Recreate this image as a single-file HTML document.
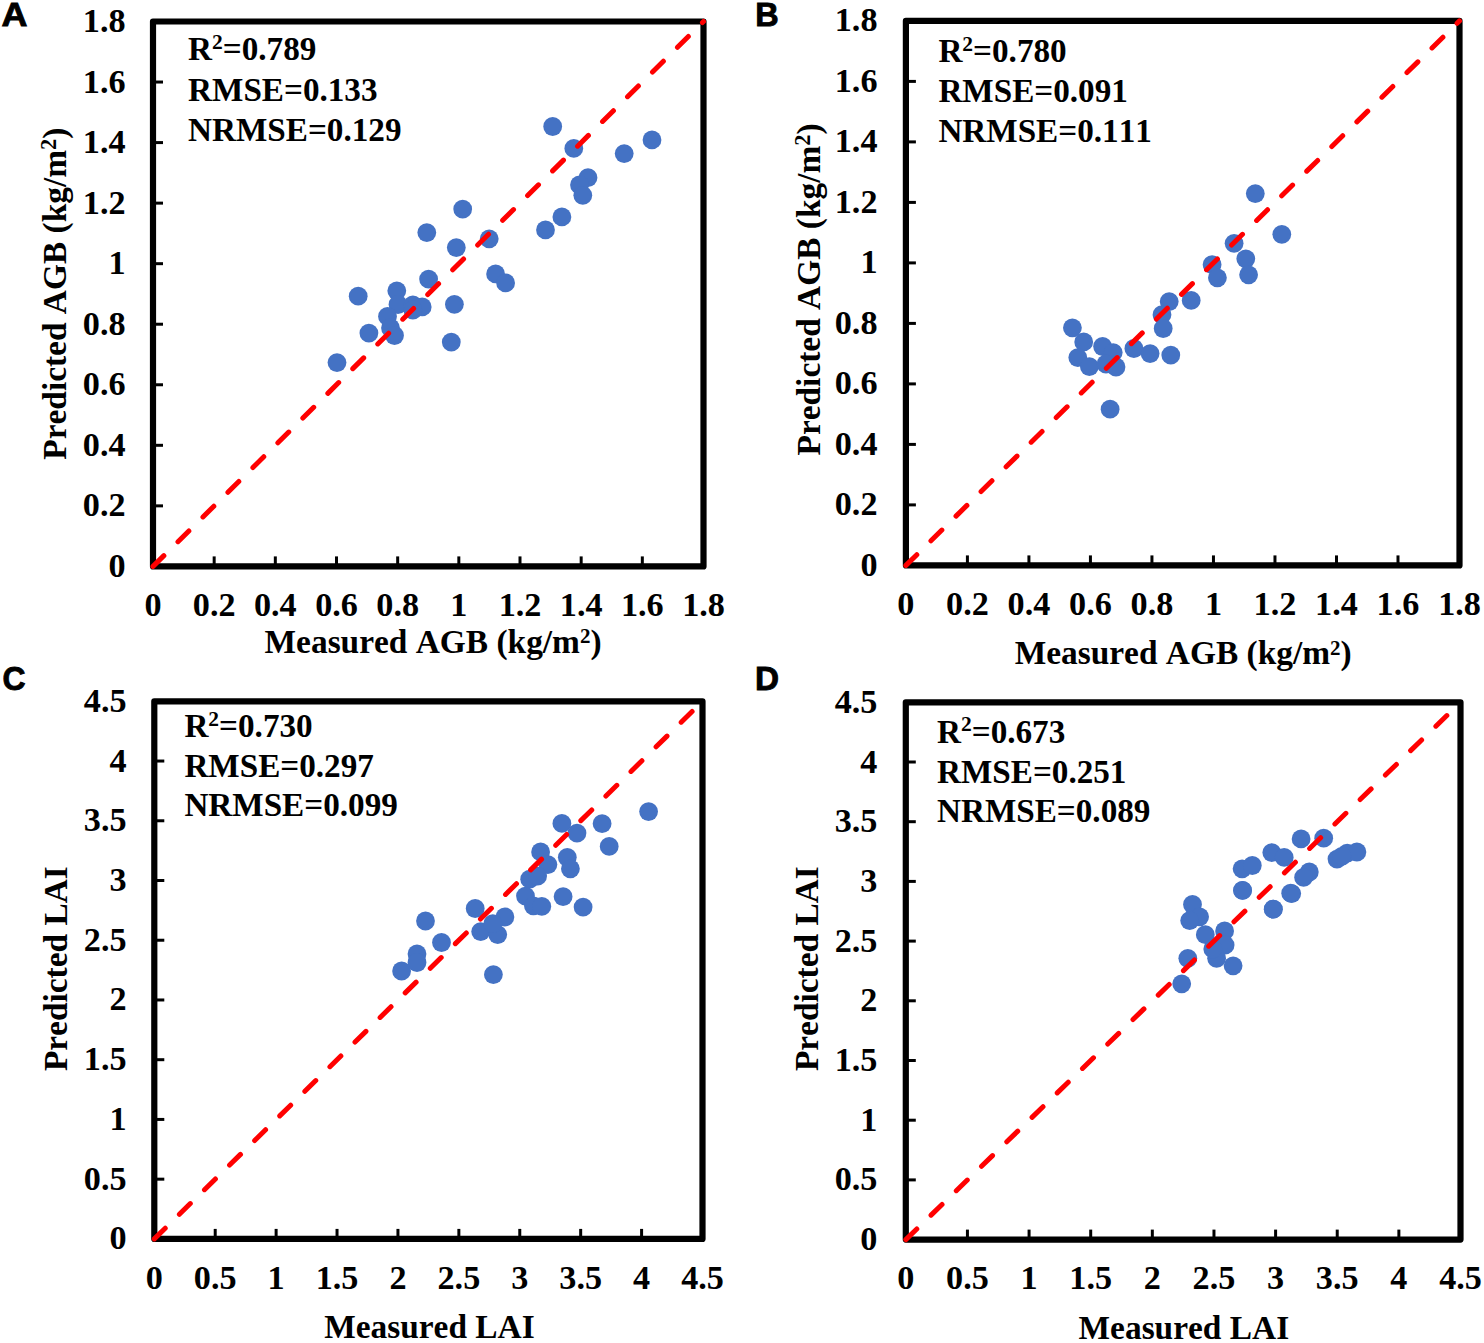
<!DOCTYPE html><html><head><meta charset="utf-8"><style>html,body{margin:0;padding:0;background:#fff;overflow:hidden;}svg{display:block;}text,tspan{font-family:"Liberation Serif",serif;font-weight:bold;fill:#000;font-kerning:none;}.L{font-family:"Liberation Sans",sans-serif;font-size:33.6px;stroke:#000;stroke-width:0.9px;}</style></head><body>
<svg width="1484" height="1343" viewBox="0 0 1484 1343">
<rect width="1484" height="1343" fill="#fff"/>
<g><line x1="214.17" y1="566.40" x2="214.17" y2="556.40" stroke="#000" stroke-width="3"/><line x1="153.00" y1="505.86" x2="163.00" y2="505.86" stroke="#000" stroke-width="3"/><line x1="275.33" y1="566.40" x2="275.33" y2="556.40" stroke="#000" stroke-width="3"/><line x1="153.00" y1="445.31" x2="163.00" y2="445.31" stroke="#000" stroke-width="3"/><line x1="336.50" y1="566.40" x2="336.50" y2="556.40" stroke="#000" stroke-width="3"/><line x1="153.00" y1="384.77" x2="163.00" y2="384.77" stroke="#000" stroke-width="3"/><line x1="397.67" y1="566.40" x2="397.67" y2="556.40" stroke="#000" stroke-width="3"/><line x1="153.00" y1="324.22" x2="163.00" y2="324.22" stroke="#000" stroke-width="3"/><line x1="458.83" y1="566.40" x2="458.83" y2="556.40" stroke="#000" stroke-width="3"/><line x1="153.00" y1="263.68" x2="163.00" y2="263.68" stroke="#000" stroke-width="3"/><line x1="520.00" y1="566.40" x2="520.00" y2="556.40" stroke="#000" stroke-width="3"/><line x1="153.00" y1="203.13" x2="163.00" y2="203.13" stroke="#000" stroke-width="3"/><line x1="581.17" y1="566.40" x2="581.17" y2="556.40" stroke="#000" stroke-width="3"/><line x1="153.00" y1="142.59" x2="163.00" y2="142.59" stroke="#000" stroke-width="3"/><line x1="642.33" y1="566.40" x2="642.33" y2="556.40" stroke="#000" stroke-width="3"/><line x1="153.00" y1="82.04" x2="163.00" y2="82.04" stroke="#000" stroke-width="3"/><rect x="153.0" y="21.5" width="550.50" height="544.90" fill="none" stroke="#000" stroke-width="6.2" stroke-linejoin="round"/><text x="153.00" y="615.6" font-size="34.2" text-anchor="middle">0</text><text x="125.6" y="576.90" font-size="34.2" text-anchor="end">0</text><text x="214.17" y="615.6" font-size="34.2" text-anchor="middle">0.2</text><text x="125.6" y="516.36" font-size="34.2" text-anchor="end">0.2</text><text x="275.33" y="615.6" font-size="34.2" text-anchor="middle">0.4</text><text x="125.6" y="455.81" font-size="34.2" text-anchor="end">0.4</text><text x="336.50" y="615.6" font-size="34.2" text-anchor="middle">0.6</text><text x="125.6" y="395.27" font-size="34.2" text-anchor="end">0.6</text><text x="397.67" y="615.6" font-size="34.2" text-anchor="middle">0.8</text><text x="125.6" y="334.72" font-size="34.2" text-anchor="end">0.8</text><text x="458.83" y="615.6" font-size="34.2" text-anchor="middle">1</text><text x="125.6" y="274.18" font-size="34.2" text-anchor="end">1</text><text x="520.00" y="615.6" font-size="34.2" text-anchor="middle">1.2</text><text x="125.6" y="213.63" font-size="34.2" text-anchor="end">1.2</text><text x="581.17" y="615.6" font-size="34.2" text-anchor="middle">1.4</text><text x="125.6" y="153.09" font-size="34.2" text-anchor="end">1.4</text><text x="642.33" y="615.6" font-size="34.2" text-anchor="middle">1.6</text><text x="125.6" y="92.54" font-size="34.2" text-anchor="end">1.6</text><text x="703.50" y="615.6" font-size="34.2" text-anchor="middle">1.8</text><text x="125.6" y="32.00" font-size="34.2" text-anchor="end">1.8</text><circle cx="552.7" cy="126.5" r="9.4" fill="#4472C4"/><circle cx="573.8" cy="148.4" r="9.4" fill="#4472C4"/><circle cx="624.2" cy="153.6" r="9.4" fill="#4472C4"/><circle cx="652" cy="139.9" r="9.4" fill="#4472C4"/><circle cx="588" cy="177.7" r="9.4" fill="#4472C4"/><circle cx="579.5" cy="184.9" r="9.4" fill="#4472C4"/><circle cx="582.8" cy="195.3" r="9.4" fill="#4472C4"/><circle cx="561.9" cy="216.9" r="9.4" fill="#4472C4"/><circle cx="545.5" cy="229.9" r="9.4" fill="#4472C4"/><circle cx="489.2" cy="238.8" r="9.4" fill="#4472C4"/><circle cx="495.6" cy="273.9" r="9.4" fill="#4472C4"/><circle cx="505.6" cy="282.9" r="9.4" fill="#4472C4"/><circle cx="462.7" cy="209.1" r="9.4" fill="#4472C4"/><circle cx="426.8" cy="232.6" r="9.4" fill="#4472C4"/><circle cx="456.3" cy="247.6" r="9.4" fill="#4472C4"/><circle cx="428.6" cy="279.1" r="9.4" fill="#4472C4"/><circle cx="358.2" cy="296.2" r="9.4" fill="#4472C4"/><circle cx="396.8" cy="290.8" r="9.4" fill="#4472C4"/><circle cx="454.4" cy="304.3" r="9.4" fill="#4472C4"/><circle cx="398" cy="304.5" r="9.4" fill="#4472C4"/><circle cx="412.9" cy="305" r="9.4" fill="#4472C4"/><circle cx="422.2" cy="306.9" r="9.4" fill="#4472C4"/><circle cx="412.9" cy="310" r="9.4" fill="#4472C4"/><circle cx="387.5" cy="316.4" r="9.4" fill="#4472C4"/><circle cx="390.5" cy="328" r="9.4" fill="#4472C4"/><circle cx="394.5" cy="335.5" r="9.4" fill="#4472C4"/><circle cx="368.9" cy="333.1" r="9.4" fill="#4472C4"/><circle cx="451.3" cy="342.1" r="9.4" fill="#4472C4"/><circle cx="337" cy="362.6" r="9.4" fill="#4472C4"/><line x1="153.0" y1="566.4" x2="703.5" y2="21.5" stroke="#FF0000" stroke-width="5" stroke-dasharray="15.3 19.84" stroke-linecap="round"/><text x="188.1" y="60.3" font-size="33.2">R<tspan font-size="21.5" dy="-11.5">2</tspan><tspan dy="11.5">=0.789</tspan></text><text x="188.1" y="100.7" font-size="33.2">RMSE=0.133</text><text x="188.1" y="140.6" font-size="33.2">NRMSE=0.129</text><text x="264.60" y="652.8" font-size="33.4">Measured AGB (kg/m<tspan font-size="21" dy="-9.5">2</tspan><tspan dy="9.5">)</tspan></text><text transform="translate(65.8,459.70) rotate(-90)" x="0" y="0" font-size="33.4">Predicted AGB (kg/m<tspan font-size="22.3" dy="-10">2</tspan><tspan dy="10">)</tspan></text><text class="L" transform="translate(1.4,26.4) scale(1.07,1)">A</text></g>
<g><line x1="967.41" y1="565.40" x2="967.41" y2="555.40" stroke="#000" stroke-width="3"/><line x1="905.90" y1="504.90" x2="915.90" y2="504.90" stroke="#000" stroke-width="3"/><line x1="1028.92" y1="565.40" x2="1028.92" y2="555.40" stroke="#000" stroke-width="3"/><line x1="905.90" y1="444.40" x2="915.90" y2="444.40" stroke="#000" stroke-width="3"/><line x1="1090.43" y1="565.40" x2="1090.43" y2="555.40" stroke="#000" stroke-width="3"/><line x1="905.90" y1="383.90" x2="915.90" y2="383.90" stroke="#000" stroke-width="3"/><line x1="1151.94" y1="565.40" x2="1151.94" y2="555.40" stroke="#000" stroke-width="3"/><line x1="905.90" y1="323.40" x2="915.90" y2="323.40" stroke="#000" stroke-width="3"/><line x1="1213.46" y1="565.40" x2="1213.46" y2="555.40" stroke="#000" stroke-width="3"/><line x1="905.90" y1="262.90" x2="915.90" y2="262.90" stroke="#000" stroke-width="3"/><line x1="1274.97" y1="565.40" x2="1274.97" y2="555.40" stroke="#000" stroke-width="3"/><line x1="905.90" y1="202.40" x2="915.90" y2="202.40" stroke="#000" stroke-width="3"/><line x1="1336.48" y1="565.40" x2="1336.48" y2="555.40" stroke="#000" stroke-width="3"/><line x1="905.90" y1="141.90" x2="915.90" y2="141.90" stroke="#000" stroke-width="3"/><line x1="1397.99" y1="565.40" x2="1397.99" y2="555.40" stroke="#000" stroke-width="3"/><line x1="905.90" y1="81.40" x2="915.90" y2="81.40" stroke="#000" stroke-width="3"/><rect x="905.9" y="20.9" width="553.60" height="544.50" fill="none" stroke="#000" stroke-width="6.2" stroke-linejoin="round"/><text x="905.90" y="615.4" font-size="34.2" text-anchor="middle">0</text><text x="877.5" y="575.90" font-size="34.2" text-anchor="end">0</text><text x="967.41" y="615.4" font-size="34.2" text-anchor="middle">0.2</text><text x="877.5" y="515.40" font-size="34.2" text-anchor="end">0.2</text><text x="1028.92" y="615.4" font-size="34.2" text-anchor="middle">0.4</text><text x="877.5" y="454.90" font-size="34.2" text-anchor="end">0.4</text><text x="1090.43" y="615.4" font-size="34.2" text-anchor="middle">0.6</text><text x="877.5" y="394.40" font-size="34.2" text-anchor="end">0.6</text><text x="1151.94" y="615.4" font-size="34.2" text-anchor="middle">0.8</text><text x="877.5" y="333.90" font-size="34.2" text-anchor="end">0.8</text><text x="1213.46" y="615.4" font-size="34.2" text-anchor="middle">1</text><text x="877.5" y="273.40" font-size="34.2" text-anchor="end">1</text><text x="1274.97" y="615.4" font-size="34.2" text-anchor="middle">1.2</text><text x="877.5" y="212.90" font-size="34.2" text-anchor="end">1.2</text><text x="1336.48" y="615.4" font-size="34.2" text-anchor="middle">1.4</text><text x="877.5" y="152.40" font-size="34.2" text-anchor="end">1.4</text><text x="1397.99" y="615.4" font-size="34.2" text-anchor="middle">1.6</text><text x="877.5" y="91.90" font-size="34.2" text-anchor="end">1.6</text><text x="1459.50" y="615.4" font-size="34.2" text-anchor="middle">1.8</text><text x="877.5" y="31.40" font-size="34.2" text-anchor="end">1.8</text><circle cx="1255.3" cy="193.6" r="9.4" fill="#4472C4"/><circle cx="1281.8" cy="234.3" r="9.4" fill="#4472C4"/><circle cx="1234.1" cy="243.3" r="9.4" fill="#4472C4"/><circle cx="1245.8" cy="258.8" r="9.4" fill="#4472C4"/><circle cx="1248.6" cy="274.8" r="9.4" fill="#4472C4"/><circle cx="1212.1" cy="264.7" r="9.4" fill="#4472C4"/><circle cx="1217.4" cy="277.8" r="9.4" fill="#4472C4"/><circle cx="1191.2" cy="300.4" r="9.4" fill="#4472C4"/><circle cx="1169.2" cy="301.6" r="9.4" fill="#4472C4"/><circle cx="1162" cy="314.7" r="9.4" fill="#4472C4"/><circle cx="1163.2" cy="328.5" r="9.4" fill="#4472C4"/><circle cx="1072.4" cy="327.8" r="9.4" fill="#4472C4"/><circle cx="1083.7" cy="341.9" r="9.4" fill="#4472C4"/><circle cx="1077.8" cy="357.6" r="9.4" fill="#4472C4"/><circle cx="1089.4" cy="366.7" r="9.4" fill="#4472C4"/><circle cx="1102.6" cy="346.5" r="9.4" fill="#4472C4"/><circle cx="1113.2" cy="352.6" r="9.4" fill="#4472C4"/><circle cx="1106" cy="364" r="9.4" fill="#4472C4"/><circle cx="1116" cy="367" r="9.4" fill="#4472C4"/><circle cx="1133.9" cy="348.5" r="9.4" fill="#4472C4"/><circle cx="1150.1" cy="353.6" r="9.4" fill="#4472C4"/><circle cx="1170.8" cy="355.1" r="9.4" fill="#4472C4"/><circle cx="1110.1" cy="409.2" r="9.4" fill="#4472C4"/><line x1="905.9" y1="565.4" x2="1459.5" y2="20.9" stroke="#FF0000" stroke-width="5" stroke-dasharray="15.3 19.84" stroke-linecap="round"/><text x="938.4" y="62.1" font-size="33.2">R<tspan font-size="21.5" dy="-11.5">2</tspan><tspan dy="11.5">=0.780</tspan></text><text x="938.4" y="102.1" font-size="33.2">RMSE=0.091</text><text x="938.4" y="141.5" font-size="33.2">NRMSE=0.111</text><text x="1014.70" y="664.1" font-size="33.4">Measured AGB (kg/m<tspan font-size="21" dy="-9.5">2</tspan><tspan dy="9.5">)</tspan></text><text transform="translate(819.7,455.50) rotate(-90)" x="0" y="0" font-size="33.4">Predicted AGB (kg/m<tspan font-size="22.3" dy="-10">2</tspan><tspan dy="10">)</tspan></text><text class="L" transform="translate(755.3,26.4) scale(0.965,1)">B</text></g>
<g><line x1="215.21" y1="1238.90" x2="215.21" y2="1228.90" stroke="#000" stroke-width="3"/><line x1="154.30" y1="1179.17" x2="164.30" y2="1179.17" stroke="#000" stroke-width="3"/><line x1="276.12" y1="1238.90" x2="276.12" y2="1228.90" stroke="#000" stroke-width="3"/><line x1="154.30" y1="1119.43" x2="164.30" y2="1119.43" stroke="#000" stroke-width="3"/><line x1="337.03" y1="1238.90" x2="337.03" y2="1228.90" stroke="#000" stroke-width="3"/><line x1="154.30" y1="1059.70" x2="164.30" y2="1059.70" stroke="#000" stroke-width="3"/><line x1="397.94" y1="1238.90" x2="397.94" y2="1228.90" stroke="#000" stroke-width="3"/><line x1="154.30" y1="999.97" x2="164.30" y2="999.97" stroke="#000" stroke-width="3"/><line x1="458.86" y1="1238.90" x2="458.86" y2="1228.90" stroke="#000" stroke-width="3"/><line x1="154.30" y1="940.23" x2="164.30" y2="940.23" stroke="#000" stroke-width="3"/><line x1="519.77" y1="1238.90" x2="519.77" y2="1228.90" stroke="#000" stroke-width="3"/><line x1="154.30" y1="880.50" x2="164.30" y2="880.50" stroke="#000" stroke-width="3"/><line x1="580.68" y1="1238.90" x2="580.68" y2="1228.90" stroke="#000" stroke-width="3"/><line x1="154.30" y1="820.77" x2="164.30" y2="820.77" stroke="#000" stroke-width="3"/><line x1="641.59" y1="1238.90" x2="641.59" y2="1228.90" stroke="#000" stroke-width="3"/><line x1="154.30" y1="761.03" x2="164.30" y2="761.03" stroke="#000" stroke-width="3"/><rect x="154.3" y="701.3" width="548.20" height="537.60" fill="none" stroke="#000" stroke-width="6.2" stroke-linejoin="round"/><text x="154.30" y="1288.6" font-size="34.2" text-anchor="middle">0</text><text x="126.6" y="1249.40" font-size="34.2" text-anchor="end">0</text><text x="215.21" y="1288.6" font-size="34.2" text-anchor="middle">0.5</text><text x="126.6" y="1189.67" font-size="34.2" text-anchor="end">0.5</text><text x="276.12" y="1288.6" font-size="34.2" text-anchor="middle">1</text><text x="126.6" y="1129.93" font-size="34.2" text-anchor="end">1</text><text x="337.03" y="1288.6" font-size="34.2" text-anchor="middle">1.5</text><text x="126.6" y="1070.20" font-size="34.2" text-anchor="end">1.5</text><text x="397.94" y="1288.6" font-size="34.2" text-anchor="middle">2</text><text x="126.6" y="1010.47" font-size="34.2" text-anchor="end">2</text><text x="458.86" y="1288.6" font-size="34.2" text-anchor="middle">2.5</text><text x="126.6" y="950.73" font-size="34.2" text-anchor="end">2.5</text><text x="519.77" y="1288.6" font-size="34.2" text-anchor="middle">3</text><text x="126.6" y="891.00" font-size="34.2" text-anchor="end">3</text><text x="580.68" y="1288.6" font-size="34.2" text-anchor="middle">3.5</text><text x="126.6" y="831.27" font-size="34.2" text-anchor="end">3.5</text><text x="641.59" y="1288.6" font-size="34.2" text-anchor="middle">4</text><text x="126.6" y="771.53" font-size="34.2" text-anchor="end">4</text><text x="702.50" y="1288.6" font-size="34.2" text-anchor="middle">4.5</text><text x="126.6" y="711.80" font-size="34.2" text-anchor="end">4.5</text><circle cx="648.6" cy="811.6" r="9.4" fill="#4472C4"/><circle cx="561.9" cy="823.4" r="9.4" fill="#4472C4"/><circle cx="577" cy="833.1" r="9.4" fill="#4472C4"/><circle cx="602.1" cy="823.7" r="9.4" fill="#4472C4"/><circle cx="609.2" cy="846.4" r="9.4" fill="#4472C4"/><circle cx="540.6" cy="851.9" r="9.4" fill="#4472C4"/><circle cx="547.9" cy="864.6" r="9.4" fill="#4472C4"/><circle cx="567.3" cy="857.3" r="9.4" fill="#4472C4"/><circle cx="570.4" cy="868.8" r="9.4" fill="#4472C4"/><circle cx="529.7" cy="879.2" r="9.4" fill="#4472C4"/><circle cx="537.6" cy="876.1" r="9.4" fill="#4472C4"/><circle cx="525.5" cy="896.1" r="9.4" fill="#4472C4"/><circle cx="533.4" cy="905.8" r="9.4" fill="#4472C4"/><circle cx="541.8" cy="906.4" r="9.4" fill="#4472C4"/><circle cx="563.1" cy="896.7" r="9.4" fill="#4472C4"/><circle cx="583.1" cy="907.1" r="9.4" fill="#4472C4"/><circle cx="504.9" cy="917" r="9.4" fill="#4472C4"/><circle cx="475.2" cy="908.5" r="9.4" fill="#4472C4"/><circle cx="480.7" cy="931.6" r="9.4" fill="#4472C4"/><circle cx="497.7" cy="934.6" r="9.4" fill="#4472C4"/><circle cx="492.8" cy="923.7" r="9.4" fill="#4472C4"/><circle cx="493.4" cy="974.6" r="9.4" fill="#4472C4"/><circle cx="425.5" cy="921" r="9.4" fill="#4472C4"/><circle cx="441.5" cy="942.5" r="9.4" fill="#4472C4"/><circle cx="417" cy="954" r="9.4" fill="#4472C4"/><circle cx="417" cy="962.5" r="9.4" fill="#4472C4"/><circle cx="401.6" cy="971" r="9.4" fill="#4472C4"/><line x1="154.3" y1="1238.9" x2="702.5" y2="701.3" stroke="#FF0000" stroke-width="5" stroke-dasharray="15.3 19.84" stroke-linecap="round"/><text x="184.4" y="737.4" font-size="33.2">R<tspan font-size="21.5" dy="-11.5">2</tspan><tspan dy="11.5">=0.730</tspan></text><text x="184.4" y="777.2" font-size="33.2">RMSE=0.297</text><text x="184.4" y="816.2" font-size="33.2">NRMSE=0.099</text><text x="324.20" y="1338.3" font-size="33.4">Measured LAI</text><text transform="translate(66.8,1071.10) rotate(-90)" x="0" y="0" font-size="33.4">Predicted LAI</text><text class="L" transform="translate(2.6,690.1) scale(0.95,1)">C</text></g>
<g><line x1="967.43" y1="1239.60" x2="967.43" y2="1229.60" stroke="#000" stroke-width="3"/><line x1="905.80" y1="1179.90" x2="915.80" y2="1179.90" stroke="#000" stroke-width="3"/><line x1="1029.07" y1="1239.60" x2="1029.07" y2="1229.60" stroke="#000" stroke-width="3"/><line x1="905.80" y1="1120.20" x2="915.80" y2="1120.20" stroke="#000" stroke-width="3"/><line x1="1090.70" y1="1239.60" x2="1090.70" y2="1229.60" stroke="#000" stroke-width="3"/><line x1="905.80" y1="1060.50" x2="915.80" y2="1060.50" stroke="#000" stroke-width="3"/><line x1="1152.33" y1="1239.60" x2="1152.33" y2="1229.60" stroke="#000" stroke-width="3"/><line x1="905.80" y1="1000.80" x2="915.80" y2="1000.80" stroke="#000" stroke-width="3"/><line x1="1213.97" y1="1239.60" x2="1213.97" y2="1229.60" stroke="#000" stroke-width="3"/><line x1="905.80" y1="941.10" x2="915.80" y2="941.10" stroke="#000" stroke-width="3"/><line x1="1275.60" y1="1239.60" x2="1275.60" y2="1229.60" stroke="#000" stroke-width="3"/><line x1="905.80" y1="881.40" x2="915.80" y2="881.40" stroke="#000" stroke-width="3"/><line x1="1337.23" y1="1239.60" x2="1337.23" y2="1229.60" stroke="#000" stroke-width="3"/><line x1="905.80" y1="821.70" x2="915.80" y2="821.70" stroke="#000" stroke-width="3"/><line x1="1398.87" y1="1239.60" x2="1398.87" y2="1229.60" stroke="#000" stroke-width="3"/><line x1="905.80" y1="762.00" x2="915.80" y2="762.00" stroke="#000" stroke-width="3"/><rect x="905.8" y="702.3" width="554.70" height="537.30" fill="none" stroke="#000" stroke-width="6.2" stroke-linejoin="round"/><text x="905.80" y="1289.4" font-size="34.2" text-anchor="middle">0</text><text x="877.4" y="1250.10" font-size="34.2" text-anchor="end">0</text><text x="967.43" y="1289.4" font-size="34.2" text-anchor="middle">0.5</text><text x="877.4" y="1190.40" font-size="34.2" text-anchor="end">0.5</text><text x="1029.07" y="1289.4" font-size="34.2" text-anchor="middle">1</text><text x="877.4" y="1130.70" font-size="34.2" text-anchor="end">1</text><text x="1090.70" y="1289.4" font-size="34.2" text-anchor="middle">1.5</text><text x="877.4" y="1071.00" font-size="34.2" text-anchor="end">1.5</text><text x="1152.33" y="1289.4" font-size="34.2" text-anchor="middle">2</text><text x="877.4" y="1011.30" font-size="34.2" text-anchor="end">2</text><text x="1213.97" y="1289.4" font-size="34.2" text-anchor="middle">2.5</text><text x="877.4" y="951.60" font-size="34.2" text-anchor="end">2.5</text><text x="1275.60" y="1289.4" font-size="34.2" text-anchor="middle">3</text><text x="877.4" y="891.90" font-size="34.2" text-anchor="end">3</text><text x="1337.23" y="1289.4" font-size="34.2" text-anchor="middle">3.5</text><text x="877.4" y="832.20" font-size="34.2" text-anchor="end">3.5</text><text x="1398.87" y="1289.4" font-size="34.2" text-anchor="middle">4</text><text x="877.4" y="772.50" font-size="34.2" text-anchor="end">4</text><text x="1460.50" y="1289.4" font-size="34.2" text-anchor="middle">4.5</text><text x="877.4" y="712.80" font-size="34.2" text-anchor="end">4.5</text><circle cx="1301.1" cy="838.9" r="9.4" fill="#4472C4"/><circle cx="1323.7" cy="838.2" r="9.4" fill="#4472C4"/><circle cx="1271.8" cy="852.6" r="9.4" fill="#4472C4"/><circle cx="1284.2" cy="857.4" r="9.4" fill="#4472C4"/><circle cx="1242.1" cy="868.8" r="9.4" fill="#4472C4"/><circle cx="1252.3" cy="865.5" r="9.4" fill="#4472C4"/><circle cx="1309.3" cy="872" r="9.4" fill="#4472C4"/><circle cx="1303.6" cy="877.4" r="9.4" fill="#4472C4"/><circle cx="1242.6" cy="890.3" r="9.4" fill="#4472C4"/><circle cx="1291.7" cy="893.6" r="9.4" fill="#4472C4"/><circle cx="1273.4" cy="909.2" r="9.4" fill="#4472C4"/><circle cx="1337" cy="859.1" r="9.4" fill="#4472C4"/><circle cx="1347.2" cy="853.1" r="9.4" fill="#4472C4"/><circle cx="1356.9" cy="852" r="9.4" fill="#4472C4"/><circle cx="1341.8" cy="856.4" r="9.4" fill="#4472C4"/><circle cx="1242.5" cy="890.4" r="9.4" fill="#4472C4"/><circle cx="1192.5" cy="904.5" r="9.4" fill="#4472C4"/><circle cx="1199.6" cy="916.8" r="9.4" fill="#4472C4"/><circle cx="1189.7" cy="920.6" r="9.4" fill="#4472C4"/><circle cx="1205.3" cy="934.7" r="9.4" fill="#4472C4"/><circle cx="1224.6" cy="930.9" r="9.4" fill="#4472C4"/><circle cx="1225.1" cy="945.1" r="9.4" fill="#4472C4"/><circle cx="1216.6" cy="958.3" r="9.4" fill="#4472C4"/><circle cx="1212.8" cy="948.9" r="9.4" fill="#4472C4"/><circle cx="1233.1" cy="965.8" r="9.4" fill="#4472C4"/><circle cx="1187.8" cy="958.3" r="9.4" fill="#4472C4"/><circle cx="1181.7" cy="983.8" r="9.4" fill="#4472C4"/><circle cx="1273.2" cy="909.2" r="9.4" fill="#4472C4"/><circle cx="1290.7" cy="893.2" r="9.4" fill="#4472C4"/><line x1="905.8" y1="1239.6" x2="1460.5" y2="702.3" stroke="#FF0000" stroke-width="5" stroke-dasharray="15.3 19.84" stroke-linecap="round"/><text x="937.0" y="742.7" font-size="33.2">R<tspan font-size="21.5" dy="-11.5">2</tspan><tspan dy="11.5">=0.673</tspan></text><text x="937.0" y="783.0" font-size="33.2">RMSE=0.251</text><text x="937.0" y="822.0" font-size="33.2">NRMSE=0.089</text><text x="1078.60" y="1338.7" font-size="33.4">Measured LAI</text><text transform="translate(817.7,1071.10) rotate(-90)" x="0" y="0" font-size="33.4">Predicted LAI</text><text class="L" transform="translate(755.0,690.0) scale(0.99,1)">D</text></g>
</svg></body></html>
